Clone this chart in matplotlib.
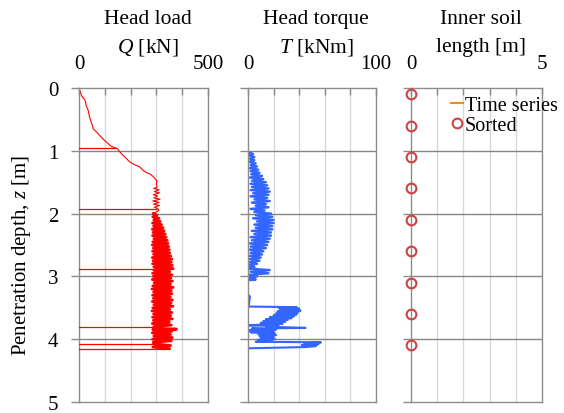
import matplotlib
matplotlib.use("Agg")
import matplotlib.pyplot as plt
import numpy as np

plt.rcParams['font.family'] = ['Liberation Serif', 'DejaVu Serif']
plt.rcParams['mathtext.fontset'] = 'custom'
plt.rcParams['mathtext.it'] = 'Liberation Serif:italic'
plt.rcParams['mathtext.rm'] = 'Liberation Serif'

# -----------------------------
# DATA
# -----------------------------
# head load Q [kN] vs depth z [m], upper part (thin trace)
q_depth_top = [
    0.00, 0.04, 0.07, 0.10, 0.15, 0.18, 0.22, 0.28, 0.35, 0.40, 0.45, 0.49,
    0.55, 0.60, 0.65, 0.70, 0.76, 0.82, 0.89, 0.93, 0.96, 0.97,
    1.00, 1.05, 1.10, 1.15, 1.18, 1.22, 1.26, 1.30, 1.34, 1.37, 1.42, 1.48,
    1.52, 1.58,
    1.60, 1.62, 1.65, 1.67, 1.70, 1.72, 1.75, 1.77, 1.80, 1.82, 1.85, 1.87,
    1.90, 1.92, 1.95, 1.98, 2.00,
]
q_load_top = [
    0, 3, 6, 8, 14, 22, 25, 28, 35, 38, 40, 43,
    48, 52, 55, 68, 81, 95, 114, 125, 146, 150,
    155, 165, 178, 190, 198, 215, 237, 245, 258, 276, 290, 302,
    300, 302,
    290, 310, 292, 312, 288, 305, 290, 314, 286, 310, 289, 312,
    292, 305, 310, 296, 288,
]

# dense part of the head load trace
q_depth_band = [
    2.000, 2.025, 2.050, 2.075, 2.100, 2.125, 2.150, 2.175, 2.200, 2.225,
    2.250, 2.275, 2.300, 2.325, 2.350, 2.375, 2.400, 2.425, 2.450, 2.475,
    2.500, 2.525, 2.550, 2.575, 2.600, 2.625, 2.650, 2.675, 2.700, 2.725,
    2.750, 2.775, 2.800, 2.825, 2.850, 2.875,
    2.900, 2.925, 2.950, 2.975, 3.000, 3.025, 3.050, 3.075, 3.100, 3.125,
    3.150, 3.175, 3.200, 3.225, 3.250, 3.275, 3.300, 3.325, 3.350, 3.375,
    3.400, 3.425, 3.450, 3.475, 3.500, 3.525, 3.550, 3.575, 3.600, 3.625,
    3.650, 3.675, 3.700, 3.725, 3.750, 3.775, 3.800, 3.825, 3.840,
    3.850, 3.875, 3.900, 3.925, 3.950, 3.975, 4.000, 4.025, 4.050, 4.075,
    4.100, 4.125, 4.150,
]
q_load_band = [
    288, 302, 286, 310, 290, 315, 285, 320, 289, 326,
    284, 330, 287, 334, 285, 338, 290, 342, 286, 345,
    284, 348, 288, 350, 285, 352, 289, 356, 284, 360,
    287, 358, 285, 362, 290, 365,
    290, 352, 285, 360, 288, 356, 284, 362, 291, 355,
    286, 365, 283, 358, 289, 360, 285, 354, 288, 362,
    284, 357, 290, 364, 286, 352, 283, 360, 289, 356,
    285, 362, 288, 350, 284, 358, 290, 288, 378,
    286, 360, 284, 355, 290, 362, 285, 358, 288, 290,
    355, 286, 350,
]

# sudden unloadings of the head load (depth, load before the drop)
q_drop_depth = [0.955, 1.93, 2.88, 3.81, 4.07, 4.15]
q_drop_load = [140, 300, 290, 290, 290, 350]

# head torque T [kNm] vs depth z [m]
t_depth_a = [0.0, 0.0]
t_torque_a = [0, 12]

t_depth_b = [
    1.025, 1.050, 1.075, 1.100, 1.125, 1.150, 1.175, 1.200, 1.225, 1.250,
    1.275, 1.300, 1.325, 1.350, 1.375, 1.400, 1.425, 1.450, 1.475, 1.500,
    1.525, 1.550, 1.575, 1.600, 1.625, 1.650, 1.675, 1.700, 1.725, 1.750,
    1.775, 1.800, 1.825, 1.850, 1.875, 1.900, 1.925, 1.950, 1.975, 2.000,
    2.025, 2.050, 2.075, 2.100, 2.125, 2.150, 2.175, 2.200, 2.225, 2.250,
    2.275, 2.300, 2.325, 2.350, 2.375, 2.400, 2.425, 2.450, 2.475, 2.500,
    2.525, 2.550, 2.575, 2.600, 2.625, 2.650, 2.675, 2.700, 2.725, 2.750,
    2.775, 2.800, 2.825, 2.850, 2.875, 2.900, 2.925, 2.950, 2.975, 3.000,
    3.025, 3.050, 3.060,
]
t_torque_b = [
    0.5, 4, 1, 5, 1.5, 5, 1, 6, 2, 7,
    1, 8, 2, 9, 2.5, 11, 1.5, 12, 3, 14,
    2, 15, 3, 16, 2, 17, 4, 16, 2, 15,
    5, 17, 3, 14, 6, 16, 2, 13, 5, 18,
    6, 19, 4, 20, 7, 20, 5, 19, 6, 19,
    3, 18, 5, 18, 2, 17, 3, 16, 1.5, 15,
    2, 14, 1, 12, 2, 11, 1, 10, 1.5, 9,
    1, 7, 0.5, 5, 1, 17, 2, 16, 1, 7,
    0.5, 6, 0.5,
]

t_depth_c = [
    3.30, 3.32, 3.48, 3.49, 3.50, 3.515, 3.53, 3.545, 3.56, 3.575,
    3.59, 3.605, 3.62, 3.635, 3.65, 3.665, 3.68, 3.695, 3.71, 3.725,
    3.74, 3.755, 3.77, 3.78, 3.79, 3.80, 3.82, 3.83, 3.845, 3.86,
    3.875, 3.89, 3.905, 3.92, 3.935, 3.95, 3.965, 3.98, 3.995, 4.01,
    4.025, 4.04, 4.05, 4.065, 4.08, 4.095, 4.11, 4.125, 4.145,
]
t_torque_c = [
    0.5, 1.5, 0.5, 38, 24, 40, 25, 41, 23, 39,
    22, 38, 20, 36, 17, 34, 14, 31, 12, 29,
    10, 27, 9, 1, 24, 14, 45, 3, 22, 1,
    20, 2, 21, 8, 22, 9, 20, 10, 21, 8,
    19, 6, 57, 44, 55, 42, 53, 45, 0.5,
]

# inner soil length [m]
soil_depth = [0.1, 0.6, 1.1, 1.6, 2.1, 2.6, 3.1, 3.6, 4.1]
soil_length = [0, 0, 0, 0, 0, 0, 0, 0, 0]

depth_ticks = [0, 1, 2, 3, 4, 5]

# -----------------------------
# FIGURE
# -----------------------------
fig = plt.figure(figsize=(5.64, 4.14), dpi=100)
W, H = 564.0, 414.0
top_px, bot_px = 89, 403
boxes = [(79, 208), (248, 376), (411, 542)]
axes = []
for x0, x1 in boxes:
    ax = fig.add_axes([x0 / W, 1 - bot_px / H, (x1 - x0) / W, (bot_px - top_px) / H])
    axes.append(ax)

spine_col = "#8c8c8c"
light_grid = "#d9d9d9"


def style(ax, xmax, xstep, title1, title2, first=False):
    ax.set_xlim(0, xmax)
    ax.set_ylim(5, 0)
    ax.xaxis.tick_top()
    ax.set_xticks(np.arange(0, xmax + 1e-9, xstep))
    ax.set_xticklabels(["0"] + [""] * (len(ax.get_xticks()) - 2) + [f"{xmax:g}"])
    ax.set_yticks(depth_ticks)
    ax.tick_params(axis="x", direction="in", length=5, width=1, color=spine_col,
                   pad=11, labelsize=15)
    ax.tick_params(axis="y", direction="out", length=6, width=1, color=spine_col,
                   pad=9, labelsize=15, labelleft=first)
    for s in ax.spines.values():
        s.set_color(spine_col)
        s.set_linewidth(1)
    for v in ax.get_xticks()[1:-1]:
        ax.axvline(v, color=light_grid, lw=1, zorder=0)
    for d in depth_ticks[1:-1]:
        ax.axhline(d, color="#858585", lw=1, zorder=0.5)
    ax.annotate(title1, xy=(0.5, 1), xycoords="axes fraction", xytext=(3, 46.5),
                textcoords="offset points", ha="center", va="baseline", fontsize=15.5)
    ax.annotate(title2, xy=(0.5, 1), xycoords="axes fraction", xytext=(3, 26.5),
                textcoords="offset points", ha="center", va="baseline", fontsize=15.5)


style(axes[0], 500, 100, "Head load", r"$Q$ [kN]", first=True)
style(axes[1], 100, 20, "Head torque", r"$T$ [kNm]")
style(axes[2], 5, 1, "Inner soil", "length [m]")

axes[0].set_ylabel(r"Penetration depth, $z$ [m]", fontsize=15)
axes[0].yaxis.set_label_coords(-0.36, 0.47)

# head load
red = "#ff0000"
axes[0].plot(q_load_top, q_depth_top, color=red, lw=0.8, zorder=2)
axes[0].plot(q_load_band, q_depth_band, color=red, lw=2.0, zorder=2)
for zd, qd in zip(q_drop_depth, q_drop_load):
    axes[0].plot([0, qd], [zd, zd], color=red, lw=0.9, zorder=3)

# head torque
blue = "#3366ff"
axes[1].plot(t_torque_a, t_depth_a, color=blue, lw=0.8, zorder=2)
axes[1].plot(t_torque_b, t_depth_b, color=blue, lw=1.7, zorder=2)
axes[1].plot(t_torque_c, t_depth_c, color=blue, lw=1.5, zorder=2)

# inner soil length
axes[2].plot([], [], color="#f08a24", lw=1.5, label="Time series")
axes[2].plot(soil_length, soil_depth, ls="none", marker="o", ms=7, mfc="none",
             mec="#cc4444", mew=1.5, clip_on=False, zorder=3, label="Sorted")
axes[2].legend(loc="upper right", bbox_to_anchor=(1.18, 1.0), frameon=False,
               fontsize=14.5, handlelength=0.6, handletextpad=0.1, labelspacing=0.05,
               borderaxespad=0)

fig.savefig("out.png", dpi=100)
